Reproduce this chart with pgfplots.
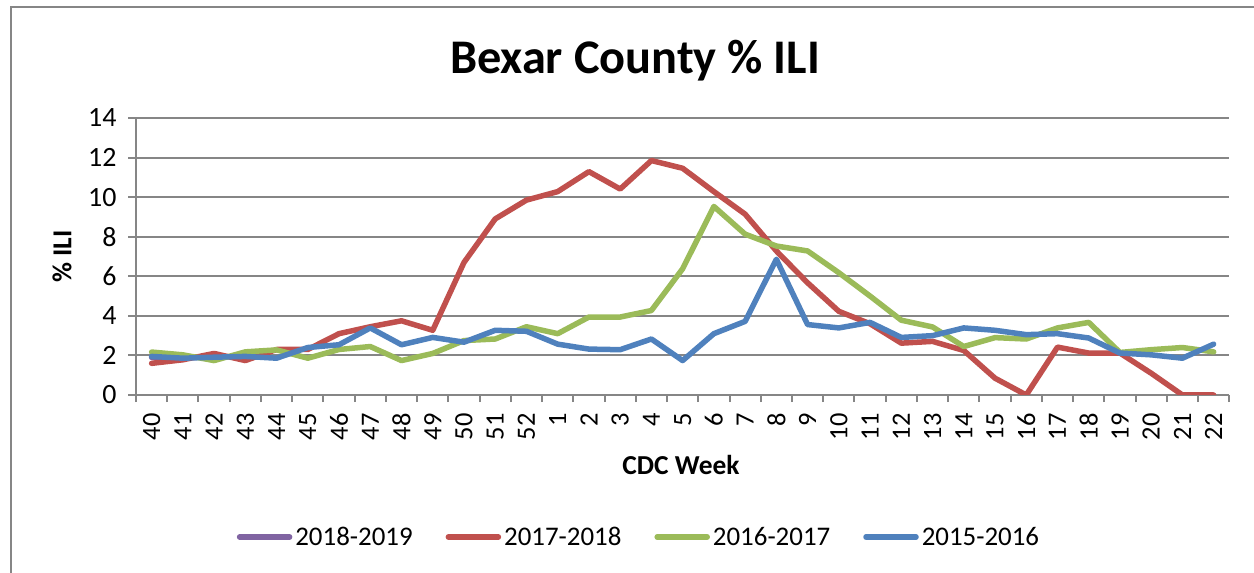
\documentclass[border=0pt]{standalone}
\usepackage{fontspec}
\setmainfont{Carlito}
\usepackage{pgfplots}
\pgfplotsset{compat=1.18}
\definecolor{cred}{HTML}{C0504D}
\definecolor{cgreen}{HTML}{9BBB59}
\definecolor{cblue}{HTML}{4F81BD}
\definecolor{cpurple}{HTML}{8064A2}
\definecolor{axgray}{HTML}{868686}
\begin{document}
\begin{tikzpicture}
\path[use as bounding box] (0bp,0bp) rectangle (1254bp,573bp);
\draw[axgray, line width=1.5bp] (11bp,0bp) -- (11bp,566bp) -- (1254bp,566bp);
\begin{axis}[
  at={(136bp,178bp)}, anchor=south west,
  scale only axis, width=1093.3bp, height=277bp,
  xmin=-0.5, xmax=34.5, ymin=0, ymax=14,
  axis lines*=left,
  axis line style={draw=axgray, line width=2bp},
  xtick={0,...,34},
  xticklabels={40,41,42,43,44,45,46,47,48,49,50,51,52,1,2,3,4,5,6,7,8,9,10,11,12,13,14,15,16,17,18,19,20,21,22},
  every major x tick/.append style={draw=none},
  minor xtick={-0.5,0.5,...,34.5},
  major tick length=8bp, minor tick length=7bp,
  tick align=outside,
  tick style={axgray, line width=2bp},
  ytick={0,2,...,14},
  ymajorgrids, grid style={axgray, line width=2bp},
  /pgf/number format/assume math mode=true,
  yticklabel style={font=\fontsize{28}{28}\selectfont},
  xticklabel style={rotate=90, anchor=east, font=\fontsize{26.5}{26.5}\selectfont},
  xticklabel shift=7bp,
  yticklabel shift=8bp,
  title={Bexar County \% ILI},
  title style={at={(axis description cs:0.4564,1.185)}, anchor=center, font=\fontsize{48.5}{48.5}\selectfont\bfseries},
  xlabel={CDC Week},
  xlabel style={at={(axis description cs:0.4985,-0.2527)}, anchor=center, font=\fontsize{27.5}{27.5}\selectfont\bfseries},
  ylabel={\% ILI},
  ylabel style={at={(axis description cs:-0.0677,0.5)}, anchor=center, font=\fontsize{27.5}{27.5}\selectfont\bfseries},
  legend columns=4,
  legend style={draw=none, fill=none, at={(axis description cs:0.4605,-0.5126)}, anchor=center,
    font=\fontsize{27}{27}\selectfont, nodes={inner sep=3bp},
    /tikz/every even column/.append style={column sep=30bp}},
  legend cell align=left,
  legend image code/.code={\draw[#1, line width=5.5bp, line cap=round] (0bp,0bp) -- (50bp,0bp);},
  every axis plot/.append style={line width=5.5bp, line join=round, line cap=round, mark=none},
]
\addplot[cpurple] coordinates {(0,1.9) (1,1.8)};
\addlegendentry{2018-2019}
\addplot[cred] coordinates {
(0,1.6) (1,1.78) (2,2.1) (3,1.74) (4,2.3) (5,2.3) (6,3.1) (7,3.45) (8,3.75) (9,3.27)
(10,6.7) (11,8.9) (12,9.85) (13,10.28) (14,11.29) (15,10.41) (16,11.85) (17,11.46) (18,10.28) (19,9.14)
(20,7.28) (21,5.67) (22,4.23) (23,3.6) (24,2.62) (25,2.71) (26,2.25) (27,0.85) (28,0) (29,2.42)
(30,2.12) (31,2.12) (32,1.1) (33,0) (34,0)};
\addlegendentry{2017-2018}
\addplot[cgreen] coordinates {
(0,2.17) (1,2.03) (2,1.74) (3,2.18) (4,2.28) (5,1.86) (6,2.3) (7,2.45) (8,1.74) (9,2.1)
(10,2.75) (11,2.83) (12,3.45) (13,3.1) (14,3.94) (15,3.94) (16,4.27) (17,6.38) (18,9.53) (19,8.13)
(20,7.53) (21,7.28) (22,6.18) (23,5.0) (24,3.78) (25,3.44) (26,2.45) (27,2.9) (28,2.83) (29,3.39)
(30,3.67) (31,2.15) (32,2.29) (33,2.4) (34,2.18)};
\addlegendentry{2016-2017}
\addplot[cblue] coordinates {
(0,1.95) (1,1.86) (2,1.91) (3,1.95) (4,1.86) (5,2.4) (6,2.54) (7,3.39) (8,2.54) (9,2.91)
(10,2.67) (11,3.27) (12,3.22) (13,2.57) (14,2.32) (15,2.29) (16,2.83) (17,1.74) (18,3.1) (19,3.72)
(20,6.86) (21,3.56) (22,3.39) (23,3.67) (24,2.91) (25,3.0) (26,3.39) (27,3.27) (28,3.05) (29,3.1)
(30,2.88) (31,2.12) (32,2.03) (33,1.86) (34,2.57)};
\addlegendentry{2015-2016}
\end{axis}
\end{tikzpicture}
\end{document}
